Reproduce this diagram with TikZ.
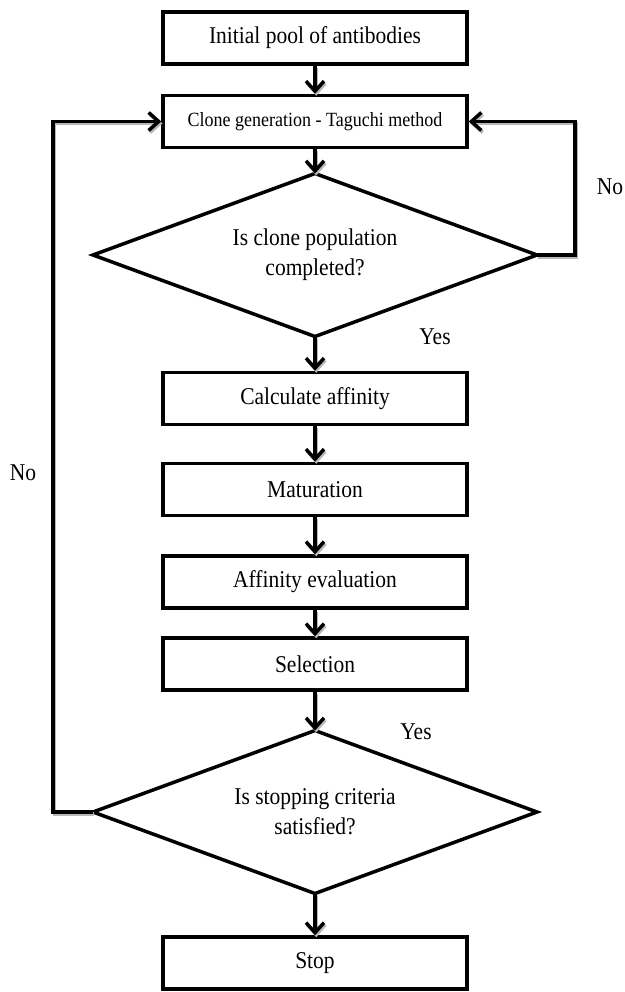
\documentclass[tikz,border=0pt]{standalone}
\usepackage{fontspec}
\setmainfont{Liberation Serif}
\usetikzlibrary{shapes.geometric,arrows.meta}
\newcommand{\tallt}[1]{\scalebox{1}[1.12]{#1}}
\begin{document}
\begin{tikzpicture}[x=1pt,y=-1pt,
  font=\fontsize{21.5}{30}\selectfont,
  stepbox/.style={draw=black, line width=3.5pt, rectangle, minimum width=304pt, minimum height=52pt, inner sep=0pt, align=center},
  decision/.style={draw=black, line width=3.5pt, diamond, aspect=2.7, minimum width=444pt, minimum height=163pt, inner sep=0pt, outer sep=0pt, align=center},
  tip/.style={-{Straight Barb[length=10pt,width=18pt,line width=3.5pt]}},
  conn/.style={line width=3.5pt, tip},
  shadowline/.style={line width=3.5pt, draw=black!28, tip},
  lbl/.style={inner sep=0pt}
]
\useasboundingbox (0,0) rectangle (624,992);
\node[stepbox] (b1) at (315,38) {\tallt{Initial pool of antibodies}};
\node[stepbox, font=\fontsize{18}{22}\selectfont] (b2) at (315,121.5) {\tallt{Clone generation - Taguchi method}};
\node[decision] (d1) at (315,255) {\tallt{Is clone population}\\\tallt{completed?}};
\node[stepbox] (b3) at (315,398.5) {\tallt{Calculate affinity}};
\node[stepbox] (b4) at (315,489.5) {\tallt{Maturation}};
\node[stepbox] (b5) at (315,582) {\tallt{Affinity evaluation}};
\node[stepbox] (b6) at (315,664) {\tallt{Selection}};
\node[decision] (d2) at (315,812) {\tallt{Is stopping criteria}\\\tallt{satisfied?}};
\node[stepbox] (b7) at (315,963) {\tallt{Stop}};

\coordinate (rloop) at (575,121.5);
\coordinate (lloop) at (53,121.5);

\begin{scope}[transform canvas={shift={(1.3pt,-2pt)}}]
\draw[shadowline] (b1.south) -- (b2.north);
\draw[shadowline] (b2.south) -- (d1.north);
\draw[shadowline] (d1.south) -- (b3.north);
\draw[shadowline] (b3.south) -- (b4.north);
\draw[shadowline] (b4.south) -- (b5.north);
\draw[shadowline] (b5.south) -- (b6.north);
\draw[shadowline] (b6.south) -- (d2.north);
\draw[shadowline] (d2.south) -- (b7.north);
\draw[shadowline] (d1.east) -| (rloop) -- (b2.east);
\draw[shadowline] (d2.west) -| (lloop) -- (b2.west);
\end{scope}

\draw[conn] (b1.south) -- (b2.north);
\draw[conn] (b2.south) -- (d1.north);
\draw[conn] (d1.south) -- (b3.north);
\draw[conn] (b3.south) -- (b4.north);
\draw[conn] (b4.south) -- (b5.north);
\draw[conn] (b5.south) -- (b6.north);
\draw[conn] (b6.south) -- (d2.north);
\draw[conn] (d2.south) -- (b7.north);
\draw[conn] (d1.east) -| (rloop) -- (b2.east);
\draw[conn] (d2.west) -| (lloop) -- (b2.west);

\node[lbl] (no1) at (610,187) {\tallt{No}};
\node[lbl] (yes1) at (435,337) {\tallt{Yes}};
\node[lbl] (no2) at (23,473) {\tallt{No}};
\node[lbl] (yes2) at (416,732) {\tallt{Yes}};
\end{tikzpicture}
\end{document}
